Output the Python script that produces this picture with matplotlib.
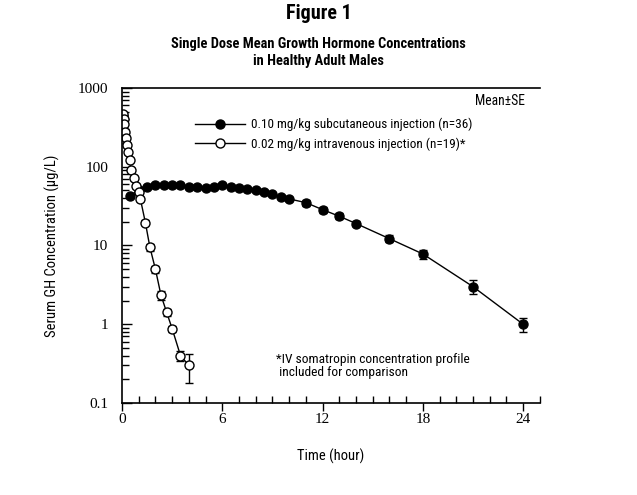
import matplotlib
matplotlib.use("Agg")
import matplotlib.pyplot as plt
from matplotlib.ticker import LogLocator, FixedLocator, NullFormatter, FixedFormatter
from matplotlib.lines import Line2D
import numpy as np

# ---- data ----
sc_time = [0.5, 1.0, 1.5, 2.0, 2.5, 3.0, 3.5, 4.0, 4.5, 5.0, 5.5, 6.0, 6.5, 7.0,
           7.5, 8.0, 8.5, 9.0, 9.5, 10.0, 11.0, 12.0, 13.0, 14.0, 16.0, 18.0, 21.0, 24.0]
sc_conc = [43, 51, 56, 58, 58, 58, 58, 56, 56, 54, 56, 58.5, 56, 54,
           52, 50, 48, 44.5, 41, 39, 35, 28.5, 23.5, 19, 12.2, 7.8, 3.0, 1.0]
sc_err = [2, 2, 2, 2, 2, 2, 2, 2, 2, 2, 2, 2, 2, 2,
          2, 2, 2, 2, 2, 2, 3, 2.5, 2, 1.5, 1.2, 1.0, 0.6, 0.2]

iv_time = [0.05, 0.08, 0.1, 0.13, 0.2, 0.25, 0.3, 0.37, 0.45, 0.55, 0.7, 0.85,
           1.0, 1.1, 1.4, 1.67, 2.0, 2.33, 2.67, 3.0, 3.5, 4.0]
iv_conc = [440, 470, 400, 350, 280, 230, 190, 155, 122, 92, 72, 57,
           48, 39, 19.5, 9.5, 5.0, 2.35, 1.42, 0.88, 0.40, 0.30]
iv_err = [20, 20, 20, 20, 15, 12, 10, 8, 6, 5, 4, 3,
          3, 2.5, 1.5, 1.0, 0.5, 0.3, 0.15, 0.08, 0.06, 0.12]

sc_label = "0.10 mg/kg subcutaneous injection (n=36)"
iv_label = "0.02 mg/kg intravenous injection (n=19)*"
x_ticks = [0, 6, 12, 18, 24]
y_ticks = [0.1, 1, 10, 100, 1000]
y_tick_labels = ["0.1", "1", "10", "100", "1000"]

sans = ["Roboto Condensed", "DejaVu Sans"]
serif = ["Liberation Serif", "DejaVu Serif"]

fig = plt.figure(figsize=(6.37, 4.95), dpi=100)
ax = fig.add_axes([0.1915, 0.1859, 0.656, 0.6364])

ax.errorbar(sc_time, sc_conc, yerr=sc_err, fmt='-o', color='black', mfc='black',
            mec='black', ms=6.5, lw=1.0, elinewidth=1.0, capsize=3)
ax.errorbar(iv_time, iv_conc, yerr=iv_err, fmt='-o', color='black', mfc='white',
            mec='black', mew=1.0, ms=6.5, lw=1.0, elinewidth=1.0, capsize=3)

ax.set_yscale('log')
ax.set_xlim(0, 25)
ax.set_ylim(0.1, 1000)

ax.spines['right'].set_visible(False)
for s in ['left', 'bottom', 'top']:
    ax.spines[s].set_linewidth(1.2)

ax.xaxis.set_major_locator(FixedLocator(x_ticks))
ax.xaxis.set_minor_locator(FixedLocator(np.arange(0, 26, 1)))
ax.yaxis.set_major_locator(FixedLocator(y_ticks))
ax.yaxis.set_major_formatter(FixedFormatter(y_tick_labels))
ax.yaxis.set_minor_locator(LogLocator(base=10, subs=np.arange(2, 10)))
ax.yaxis.set_minor_formatter(NullFormatter())

ax.tick_params(axis='x', which='major', direction='out', length=6, width=1.0, top=False, pad=1.5)
ax.tick_params(axis='x', which='minor', direction='in', length=5, width=1.0, top=False)
ax.tick_params(axis='y', which='major', direction='in', length=7, width=1.0, right=False, pad=10)
ax.tick_params(axis='y', which='minor', direction='in', length=5, width=1.0, right=False)
ax.tick_params(axis='both', labelsize=11)
for lab in ax.get_xticklabels() + ax.get_yticklabels():
    lab.set_family(serif)

ax.set_xlabel("Time (hour)", family=sans, fontsize=10.5, labelpad=16)
ax.set_ylabel("Serum GH Concentration (μg/L)", family=sans, fontsize=10.5, labelpad=13)

handles = [
    Line2D([], [], color='black', lw=1.0, marker='o', ms=6.5, mfc='black', mec='black'),
    Line2D([], [], color='black', lw=1.0, marker='o', ms=6.5, mfc='white', mec='black'),
]
ax.legend(handles, [sc_label, iv_label], loc='upper left',
          bbox_to_anchor=(0.175, 0.905), frameon=False, borderpad=0, borderaxespad=0,
          handlelength=3.8, handletextpad=0.4, labelspacing=0.45,
          prop={'family': sans, 'size': 9.5})

ax.text(0.965, 0.96, "Mean±SE", transform=ax.transAxes, ha='right', va='center',
        family=sans, fontsize=9.8)
ax.text(0.368, 0.118, "*IV somatropin concentration profile\n included for comparison",
        transform=ax.transAxes, ha='left', va='center', family=sans, fontsize=9.6,
        linespacing=1.0)

fig.text(0.5, 0.972, "Figure 1", ha='center', va='center', family=sans,
         fontsize=14.5, fontweight='bold')
fig.text(0.5, 0.894, "Single Dose Mean Growth Hormone Concentrations\nin Healthy Adult Males",
         ha='center', va='center', family=sans, fontsize=10.4, fontweight='bold',
         linespacing=1.2)

fig.savefig("out.png", dpi=100)
